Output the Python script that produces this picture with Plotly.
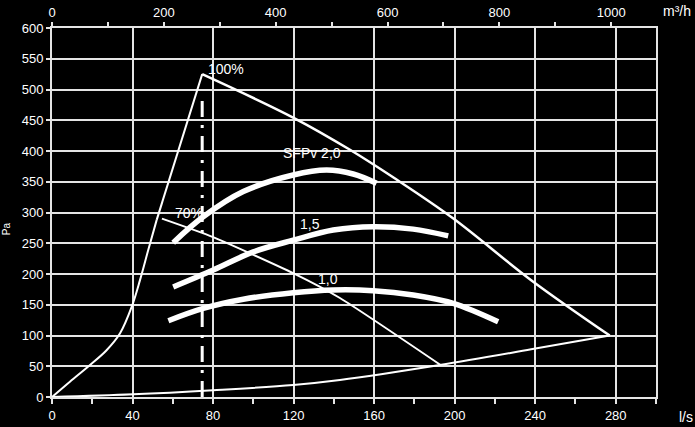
import plotly.graph_objects as go

# Fan curve 100% (lower S-shaped part, straight upper part, falling part)
fan100_low_x = [0, 8.9, 18.9, 27.1, 33.8, 39.6, 43.7, 47.8, 52]
fan100_low_y = [0, 24.9, 52, 76, 103.6, 146.8, 190, 239, 288]
fan100_up_x = [52, 74.6]
fan100_up_y = [288, 525]
fan100_fall_x = [74.6, 120, 148, 170, 199, 238, 277]
fan100_fall_y = [525, 454, 402, 356, 291, 190, 100]

# Fan curve 70%
fan70_x = [54.6, 80, 120, 143, 193]
fan70_y = [290, 260, 201, 161, 52]

# System curve
sys_x = [0, 40.4, 80, 119.8, 143, 192.6, 238, 277]
sys_y = [0, 4.3, 11, 19.5, 27.6, 52, 77.5, 100]

# SFPv curves
sfp20_x = [60.2, 75.1, 95, 119.8, 136.4, 149.6, 161.2]
sfp20_y = [251, 293, 334, 361, 369, 362.6, 347.5]
sfp15_x = [60.2, 80.1, 100, 119.8, 139.7, 159.5, 179.4, 196.8]
sfp15_y = [179, 206.5, 236, 255, 271.5, 277, 273, 262]
sfp10_x = [57.8, 75.1, 95, 119.8, 139.7, 159.5, 179.4, 199.3, 221.6]
sfp10_y = [124, 144, 159, 169.6, 174, 172.9, 165.9, 152.3, 122.4]

# Dash-dot vertical line
vline_x = [74.6, 74.6]
vline_y = [0, 486]

# Curve labels
label_text = ["100%", "70%", "SFPv 2,0", "1,5", "1,0"]
label_x = [77.5, 61, 114.7, 123, 132]
label_y = [534, 299, 397, 281, 192]

# Axis ticks
ls_ticks = [0, 40, 80, 120, 160, 200, 240, 280]
m3h_ticks = [0, 200, 400, 600, 800, 1000]
pa_ticks = list(range(0, 601, 50))

W = "white"
fig = go.Figure()

def add_line(x, y, width, shape="spline", dash=None, smoothing=1):
    fig.add_trace(go.Scatter(x=x, y=y, mode="lines", hoverinfo="skip",
                             line=dict(color=W, width=width, shape=shape,
                                       dash=dash, smoothing=smoothing)))

add_line(fan100_low_x, fan100_low_y, 2, smoothing=1)
add_line(fan100_up_x, fan100_up_y, 2, shape="linear")
add_line(fan100_fall_x, fan100_fall_y, 2.5)
add_line(fan70_x, fan70_y, 2, smoothing=0.6)
add_line(sys_x, sys_y, 2)
add_line(vline_x, vline_y, 3, shape="linear", dash="16px,8px,3px,8px")
add_line(sfp20_x, sfp20_y, 5.5)
add_line(sfp15_x, sfp15_y, 5.5)
add_line(sfp10_x, sfp10_y, 5.5)

# invisible trace to activate top axis
fig.add_trace(go.Scatter(x=[0, 1080], y=[0, 0], xaxis="x2", mode="lines",
                         line=dict(width=0), hoverinfo="skip", opacity=0))

font = dict(family="Liberation Sans, Arial, sans-serif", size=13, color=W)

for t, x, y in zip(label_text, label_x, label_y):
    fig.add_annotation(x=x, y=y, text=t, showarrow=False, xanchor="left",
                       yanchor="middle", font=dict(font, size=14), xshift=-2)

fig.add_annotation(xref="paper", yref="paper", x=-0.076, y=0.455, text="Pa",
                   showarrow=False, textangle=-90, xanchor="center",
                   yanchor="middle", font=dict(font, size=10))
fig.add_annotation(xref="paper", yref="paper", x=1.035, y=1.046, text="m³/h",
                   showarrow=False, xanchor="center", yanchor="middle",
                   font=dict(font, size=14))
fig.add_annotation(xref="paper", yref="paper", x=1.05, y=-0.054, text="l/s",
                   showarrow=False, xanchor="center", yanchor="middle",
                   font=dict(font, size=14))

grid = "#e4e4e4"
fig.update_layout(
    width=695, height=427,
    margin=dict(l=52, r=39, t=28, b=30, autoexpand=False),
    paper_bgcolor="black", plot_bgcolor="black",
    showlegend=False, font=font,
    xaxis=dict(range=[0, 300], tickmode="array", tickvals=ls_ticks,
               automargin=False,
               showgrid=True, gridcolor=grid, gridwidth=2,
               showline=True, linecolor=grid, linewidth=2, mirror=True,
               ticks="outside", ticklen=5, tickwidth=2, tickcolor=grid,
               zeroline=False, tickfont=font,
               minor=dict(tickmode="linear", tick0=0, dtick=20, ticks="outside",
                          ticklen=5, tickwidth=2, tickcolor=grid, showgrid=False)),
    xaxis2=dict(range=[0, 1080], overlaying="x", side="top", tickmode="array",
                tickvals=m3h_ticks, showgrid=False, showline=False,
                automargin=False,
                ticks="outside", ticklen=5, tickwidth=2, tickcolor=grid,
                zeroline=False, tickfont=font,
                minor=dict(tickmode="linear", tick0=0, dtick=100, ticks="outside",
                           ticklen=5, tickwidth=2, tickcolor=grid, showgrid=False)),
    yaxis=dict(range=[0, 600], tickmode="array", tickvals=pa_ticks,
               automargin=False,
               showgrid=True, gridcolor=grid, gridwidth=2,
               showline=True, linecolor=grid, linewidth=2, mirror=True,
               ticks="outside", ticklen=4, tickwidth=2, tickcolor=grid,
               zeroline=False, tickfont=font),
)

fig.write_html("out.html", config={"displayModeBar": False, "staticPlot": True},
               post_script="document.body.style.margin='0';")
